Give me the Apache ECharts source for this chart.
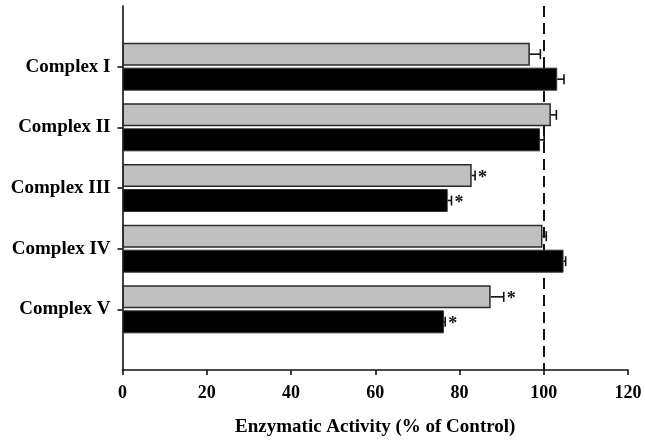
<!DOCTYPE html>
<html>
<head>
<meta charset="utf-8">
<script src="https://cdn.jsdelivr.net/npm/echarts@6/dist/echarts.min.js"></script>
<style>html,body{margin:0;padding:0;background:#fff}#c{width:645px;height:448px}</style>
</head>
<body>
<div id="c"></div>
<script>
var categories = ['Complex I', 'Complex II', 'Complex III', 'Complex IV', 'Complex V'];
var grayValues = [96.7, 101.7, 82.9, 99.7, 87.4];
var grayErrors = [2.5, 1.3, 0.8, 0.9, 3.1];
var graySignificant = [false, false, true, false, true];
var blackValues = [103.2, 99.1, 77.2, 104.7, 76.3];
var blackErrors = [1.6, 1.0, 0.9, 0.5, 0.3];
var blackSignificant = [false, false, true, false, true];
var xTicks = [0, 20, 40, 60, 80, 100, 120];
var referenceValue = 100;
var xTitle = 'Enzymatic Activity (% of Control)';

var FONT = '"Liberation Serif", "Times New Roman", serif';
var BAR_W = 23, BAR_GAP_PX = 2;
var OFF = (BAR_W + BAR_GAP_PX) / 2;

var axisCats = [''].concat(categories).concat(['']);
function pad(a) { return [null].concat(a).concat([null]); }

function errData(vals, errs, sig, side) {
  return vals.map(function (v, i) { return [v, errs[i], i + 1, side, sig[i] ? 1 : 0]; });
}

function renderErr(params, api) {
  var v = api.value(0), e = api.value(1), cat = api.value(2), side = api.value(3), sig = api.value(4);
  var p0 = api.coord([v, cat]);
  var p1 = api.coord([v + e, cat]);
  var y = p0[1] + side * OFF;
  var children = [
    { type: 'line', shape: { x1: p0[0], y1: y, x2: p1[0], y2: y }, style: { stroke: '#111', lineWidth: 1.6 } },
    { type: 'line', shape: { x1: p1[0], y1: y - 5, x2: p1[0], y2: y + 5 }, style: { stroke: '#111', lineWidth: 1.6 } }
  ];
  if (sig) {
    children.push({ type: 'text', style: { x: p1[0] + 3, y: y + 3, text: '*', fill: '#111', font: 'bold 18px ' + FONT, textAlign: 'left', textVerticalAlign: 'middle' } });
  }
  return { type: 'group', children: children };
}

var chart = echarts.init(document.getElementById('c'), null, { renderer: 'canvas' });
chart.setOption({
  backgroundColor: '#fff',
  animation: false,
  grid: { left: 122.5, right: 17, top: 6, bottom: 78, containLabel: false },
  xAxis: {
    type: 'value', min: xTicks[0], max: xTicks[xTicks.length - 1], interval: 20,
    axisLine: { show: true, lineStyle: { color: '#111', width: 1.6 } },
    axisTick: { show: true, length: 5, lineStyle: { color: '#111', width: 1.6 } },
    splitLine: { show: false },
    axisLabel: { margin: 14, color: '#000', fontFamily: FONT, fontWeight: 'bold', fontSize: 18 },
    name: xTitle, nameLocation: 'middle', nameGap: 48,
    nameTextStyle: { color: '#000', fontFamily: FONT, fontWeight: 'bold', fontSize: 19 }
  },
  yAxis: {
    type: 'category', data: axisCats, inverse: true, boundaryGap: false,
    axisLine: { show: true, lineStyle: { color: '#111', width: 1.6 } },
    axisTick: { show: true, length: 5, interval: function (i, v) { return v !== ''; }, lineStyle: { color: '#111', width: 1.6 } },
    axisLabel: { margin: 12, interval: 0, color: '#000', fontFamily: FONT, fontWeight: 'bold', fontSize: 19 },
    splitLine: { show: false }
  },
  series: [
    {
      type: 'line', data: [], z: 1, silent: true,
      markLine: {
        z: 1, silent: true, symbol: ['none', 'none'], label: { show: false },
        lineStyle: { color: '#111', type: [11, 6], width: 2 },
        data: [{ xAxis: referenceValue }]
      }
    },
    {
      type: 'bar', name: 'gray', data: pad(grayValues), barWidth: BAR_W, barGap: (BAR_GAP_PX / BAR_W * 100) + '%', z: 2,
      itemStyle: { color: '#c0c0c0', borderColor: '#2a2a2a', borderWidth: 1.5 }
    },
    {
      type: 'bar', name: 'black', data: pad(blackValues), barWidth: BAR_W, z: 2,
      itemStyle: { color: '#000', borderColor: '#333', borderWidth: 1 }
    },
    { type: 'custom', renderItem: renderErr, data: errData(grayValues, grayErrors, graySignificant, -1), z: 3, encode: { x: 0, y: 2 } },
    { type: 'custom', renderItem: renderErr, data: errData(blackValues, blackErrors, blackSignificant, 1), z: 3, encode: { x: 0, y: 2 } }
  ]
});
</script>
</body>
</html>
